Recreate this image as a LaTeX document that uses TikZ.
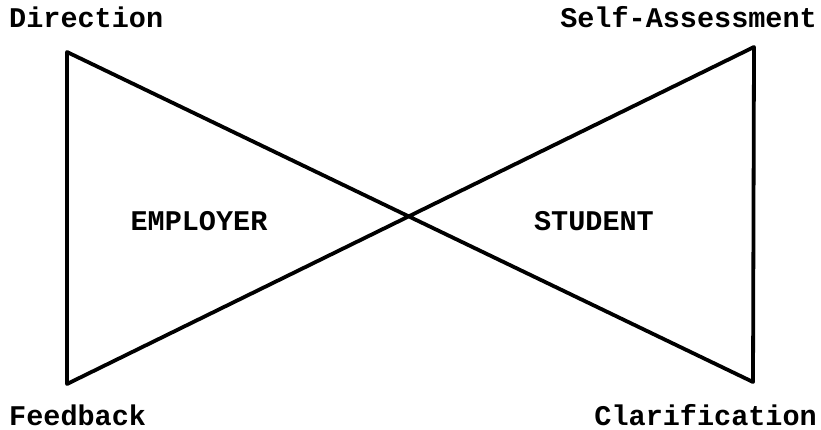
\documentclass[tikz,border=0pt]{standalone}
\usepackage{fontspec}
\setmonofont{Liberation Mono}
\usepackage{tikz}
\usetikzlibrary{positioning,calc}
\tikzset{
  bowlab/.style={font=\ttfamily\bfseries\fontsize{28.5}{30}\selectfont,inner sep=0pt},
  bowline/.style={line width=3.8pt,line join=round,line cap=round}
}

\begin{document}
\begin{tikzpicture}[x=1pt,y=-1pt]
  \useasboundingbox (0,0) rectangle (821,430);
  \coordinate (tl) at (67,52);
  \coordinate (bl) at (67,384);
  \coordinate (tr) at (754,47);
  \coordinate (br) at (753,382);
  \draw[bowline] (tl)--(bl)--(tr)--(br)--cycle;
  \node[bowlab,anchor=base west] (dir) at (9,28) {Direction};
  \node[bowlab,anchor=base east] (self) at (817,28) {Self-Assessment};
  \node[bowlab,anchor=base west] (feed) at (9,425) {Feedback};
  \node[bowlab,anchor=base east] (clar) at (817,425) {Clarification};
  \node[bowlab,anchor=base] (emp) at (199,230) {EMPLOYER};
  \node[bowlab,anchor=base] (stu) at (594,230) {STUDENT};
\end{tikzpicture}
\end{document}
